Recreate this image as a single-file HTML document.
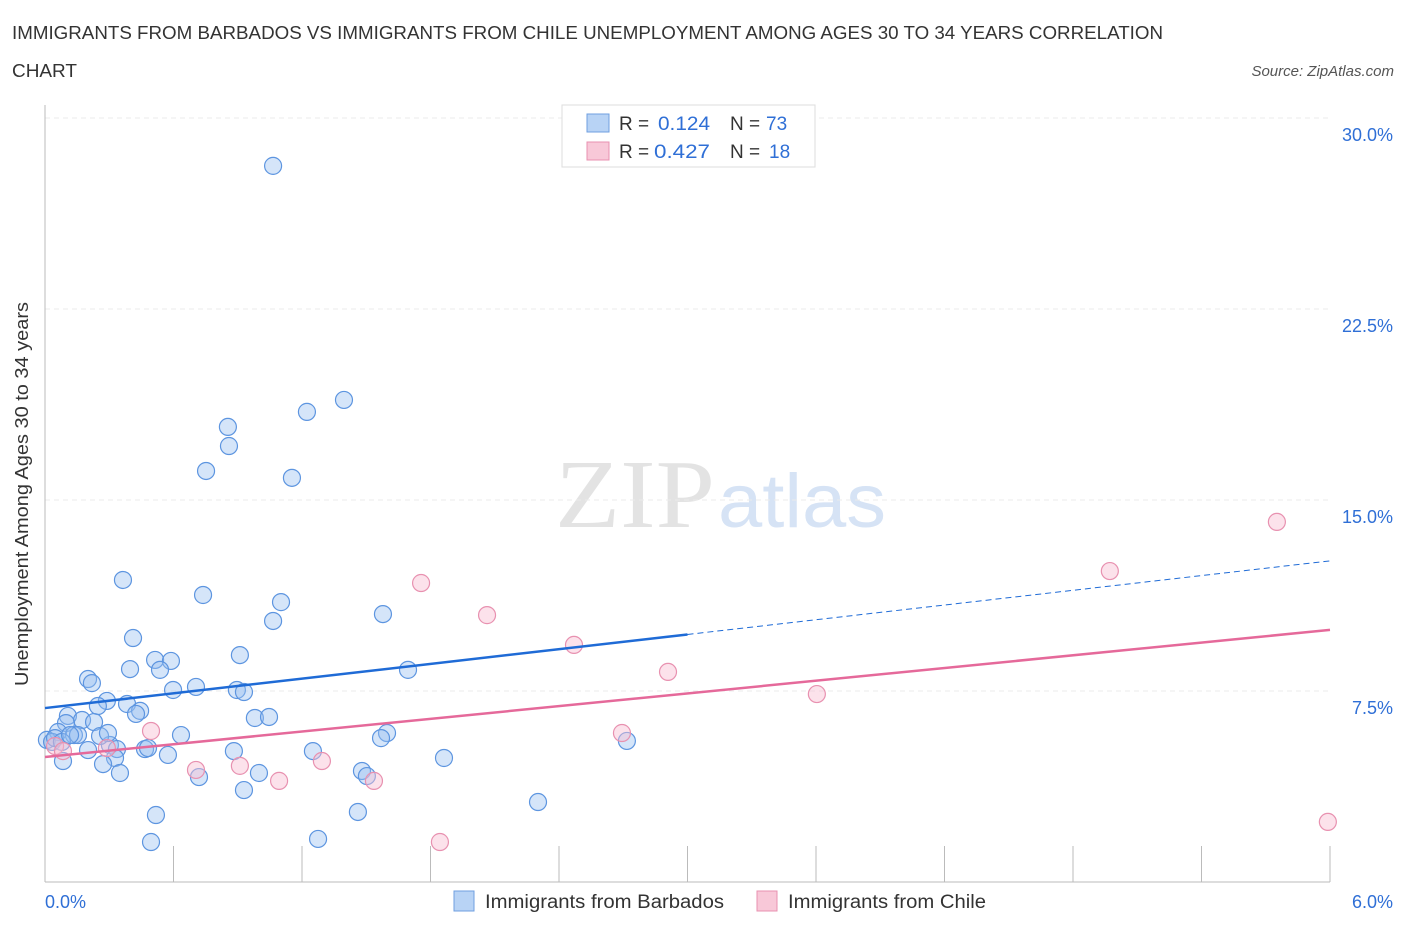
<!DOCTYPE html>
<html><head><meta charset="utf-8"><style>
body{margin:0;background:#fff;font-family:"Liberation Sans",sans-serif}
</style></head><body>
<svg width="1406" height="930" viewBox="0 0 1406 930" xmlns="http://www.w3.org/2000/svg">
<text x="12" y="39" font-size="18" fill="#333" textLength="1151" lengthAdjust="spacingAndGlyphs">IMMIGRANTS FROM BARBADOS VS IMMIGRANTS FROM CHILE UNEMPLOYMENT AMONG AGES 30 TO 34 YEARS CORRELATION</text>
<text x="12" y="77" font-size="18" fill="#333" textLength="65" lengthAdjust="spacingAndGlyphs">CHART</text>
<text x="1394" y="76" font-size="15" fill="#555" font-style="italic" text-anchor="end">Source: ZipAtlas.com</text>
<g>
<text x="555" y="527" font-size="98" fill="#e3e3e3" font-family="Liberation Serif,serif" textLength="160" lengthAdjust="spacingAndGlyphs">ZIP</text>
<text x="718" y="527" font-size="76" fill="#d6e3f5" textLength="168" lengthAdjust="spacingAndGlyphs">atlas</text>
</g>
<g id="grid"></g>
<g id="axes"></g>
<g id="marks"></g>
<text x="28" y="494" font-size="18" fill="#333" text-anchor="middle" textLength="384" lengthAdjust="spacingAndGlyphs" transform="rotate(-90 28 494)">Unemployment Among Ages 30 to 34 years</text>
<g>
<rect x="562" y="105" width="253" height="62" fill="#fff" stroke="#ddd"/>
<rect x="587" y="114" width="22" height="18" fill="#b8d3f5" stroke="#6f9fe0"/>
<rect x="587" y="142" width="22" height="18" fill="#f8c8d8" stroke="#e891b0"/>
<text y="130" font-size="19" fill="#333"><tspan x="619">R =</tspan><tspan x="658" fill="#2f6fd6" textLength="52" lengthAdjust="spacingAndGlyphs">0.124</tspan><tspan x="730">N =</tspan><tspan x="766" fill="#2f6fd6">73</tspan></text>
<text y="158" font-size="19" fill="#333"><tspan x="619">R =</tspan><tspan x="654" fill="#2f6fd6" textLength="56" lengthAdjust="spacingAndGlyphs">0.427</tspan><tspan x="730">N =</tspan><tspan x="769" fill="#2f6fd6">18</tspan></text>
</g>
<g>
<rect x="454" y="891" width="20" height="20" fill="#b8d3f5" stroke="#6f9fe0"/>
<text x="485" y="908" font-size="19" fill="#333" textLength="239" lengthAdjust="spacingAndGlyphs">Immigrants from Barbados</text>
<rect x="757" y="891" width="20" height="20" fill="#f8c8d8" stroke="#e891b0"/>
<text x="788" y="908" font-size="19" fill="#333" textLength="198" lengthAdjust="spacingAndGlyphs">Immigrants from Chile</text>
</g>
</svg>
<script>
const yTicks=[7.5,15,22.5,30];
const yTickLabels=["7.5%","15.0%","22.5%","30.0%"];
const xTickVals=[0,0.6,1.2,1.8,2.4,3.0,3.6,4.2,4.8,5.4,6.0];
const xEndLabels=["0.0%","6.0%"];
const barbadosX=[1.065,1.396,1.223,0.854,0.859,0.752,1.153,0.364,0.738,1.102,1.578,1.065,0.411,0.910,0.514,0.588,0.397,0.537,1.695,0.201,0.219,0.598,0.705,0.896,0.929,0.289,0.383,0.247,0.444,0.425,0.107,0.173,0.098,0.229,0.980,1.046,0.635,0.061,0.135,0.154,0.009,0.033,1.597,1.569,2.717,0.303,0.336,0.467,0.481,0.201,0.882,1.251,0.574,0.327,0.084,0.271,1.863,1.480,1.503,0.719,0.350,0.999,0.929,2.302,0.518,1.461,0.495,1.275,0.047,0.079,0.257,0.294,0.117];
const barbadosY=[28.12,18.93,18.46,17.87,17.12,16.14,15.87,11.86,11.27,10.99,10.52,10.25,9.58,8.91,8.72,8.68,8.36,8.33,8.33,7.97,7.81,7.54,7.66,7.54,7.46,7.11,6.99,6.91,6.72,6.60,6.52,6.36,6.24,6.28,6.44,6.48,5.77,5.89,5.77,5.77,5.58,5.50,5.85,5.65,5.54,5.38,5.22,5.22,5.26,5.18,5.14,5.14,4.99,4.87,4.75,4.63,4.87,4.36,4.16,4.12,4.28,4.28,3.61,3.14,2.63,2.75,1.57,1.69,5.65,5.50,5.73,5.85,5.77];
const chileX=[5.752,4.972,1.756,2.064,2.470,2.909,3.604,0.495,2.694,0.047,0.084,0.289,0.705,0.910,1.093,1.293,1.536,1.844,5.990];
const chileY=[14.14,12.21,11.74,10.48,9.31,8.25,7.38,5.93,5.85,5.34,5.14,5.26,4.40,4.56,3.97,4.75,3.97,1.57,2.36];
const barbadosTrend=[6.83,12.61];
const barbadosSolidEnd=3.0;
const chileTrend=[4.91,9.90];
const NS="http://www.w3.org/2000/svg";
const X=v=>45+v/6*1285, Y=v=>882-v/30*764;
function mk(t,a,p){const e=document.createElementNS(NS,t);for(const k in a)e.setAttribute(k,a[k]);p.appendChild(e);return e;}
const grid=document.getElementById('grid'),axes=document.getElementById('axes'),marks=document.getElementById('marks');
yTicks.forEach((v,i)=>{
 const l=mk('line',{x1:45,x2:1330,y1:Y(v),y2:Y(v),stroke:'#ebebeb','stroke-dasharray':'5,4'},grid);
 
 
 const t=mk('text',{x:1393,y:Y(v)+23,'font-size':18,fill:'#2f6fd6','text-anchor':'end'},axes);
 t.textContent=yTickLabels[i];
 
 
});
const ax=mk('line',{x1:45,x2:1330,y1:882,y2:882,stroke:'#bbb'},axes);


const ay=mk('line',{x1:45,x2:45,y1:105,y2:882,stroke:'#bbb'},axes);


xTickVals.forEach(v=>{
 const t=mk('line',{x1:X(v),x2:X(v),y1:846,y2:882,stroke:'#bbb'},axes);
 
 
});
[[0,'start',45],[6,'end',1393]].forEach((d,i)=>{
 const t=mk('text',{x:d[2],y:908,'font-size':18,fill:'#2f6fd6','text-anchor':d[1]},axes);
 t.textContent=xEndLabels[i];
 
 
});
function lineAt(tr,x){return tr[0]+(tr[1]-tr[0])*x/6;}
barbadosX.forEach((x,i)=>{
 const c=mk('circle',{cx:X(x),cy:Y(barbadosY[i]),r:8.5,fill:'rgba(150,190,240,0.4)',stroke:'#5d95e0','stroke-width':1.2},marks);
 
 
});
chileX.forEach((x,i)=>{
 const c=mk('circle',{cx:X(x),cy:Y(chileY[i]),r:8.5,fill:'rgba(248,190,210,0.45)',stroke:'#e891b0','stroke-width':1.2},marks);
 
 
});
const b1=mk('line',{x1:X(0),y1:Y(barbadosTrend[0]),x2:X(barbadosSolidEnd),y2:Y(lineAt(barbadosTrend,barbadosSolidEnd)),stroke:'#1f6bd6','stroke-width':2.5},marks);


const b2=mk('line',{x1:X(barbadosSolidEnd),y1:Y(lineAt(barbadosTrend,barbadosSolidEnd)),x2:X(6),y2:Y(barbadosTrend[1]),stroke:'#1f6bd6','stroke-width':1,'stroke-dasharray':'6,4'},marks);


const p1=mk('line',{x1:X(0),y1:Y(chileTrend[0]),x2:X(6),y2:Y(chileTrend[1]),stroke:'#e5699a','stroke-width':2.5},marks);


</script>
</body></html>
